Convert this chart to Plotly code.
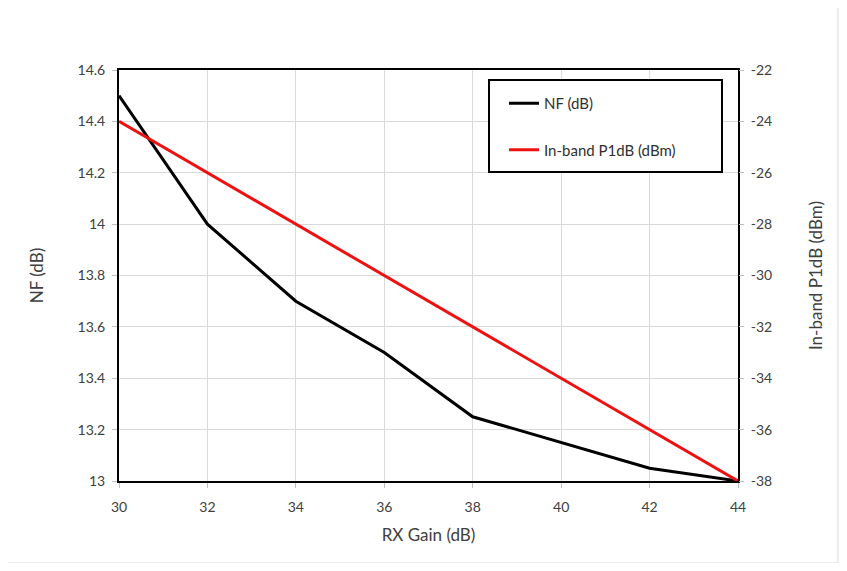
import plotly.graph_objects as go

rx_gain = [30, 32, 34, 36, 38, 40, 42, 44]
nf_db = [14.5, 14.0, 13.7, 13.5, 13.25, 13.15, 13.05, 13.0]
p1db_dbm = [-24, -26, -28, -30, -32, -34, -36, -38]
nf_ticks = [13, 13.2, 13.4, 13.6, 13.8, 14, 14.2, 14.4, 14.6]
nf_ticktext = ["13", "13.2", "13.4", "13.6", "13.8", "14", "14.2", "14.4", "14.6"]
p1_ticks = [-38, -36, -34, -32, -30, -28, -26, -24, -22]
p1_ticktext = ["-38", "-36", "-34", "-32", "-30", "-28", "-26", "-24", "-22"]

FONT = "Lato"
fig = go.Figure()
fig.add_trace(go.Scatter(x=rx_gain, y=nf_db, mode="lines", name="NF (dB)",
                         line=dict(color="black", width=3), legendgroup="a"))
fig.add_trace(go.Scatter(x=rx_gain, y=p1db_dbm, mode="lines", name="In-band P1dB (dBm)",
                         line=dict(color="#ee1111", width=3), yaxis="y2", legendgroup="b"))

OFF = 8  # page offset of the figure
L, R, T, B = 119, 738, 70, 481  # plot area in page pixels
W, H = 831, 555
pw, ph = R - L, B - T

def px(x):
    return (x - L) / pw

def py(y):
    return (B - y) / ph

fig.update_layout(
    width=W, height=H,
    margin=dict(l=L - OFF, r=W - (R - OFF), t=T - OFF, b=H - (B - OFF)),
    paper_bgcolor="white", plot_bgcolor="white",
    font=dict(family=FONT, size=14, color="#404040"),
    showlegend=True,
    legend=dict(x=px(504), y=py(87), xanchor="left", yanchor="top",
                bgcolor="rgba(0,0,0,0)", borderwidth=0,
                font=dict(size=15, color="#303030"),
                traceorder="grouped", tracegroupgap=24, itemwidth=30),
    xaxis=dict(range=[30, 44], tickvals=rx_gain, showgrid=True, gridcolor="#d9d9d9",
               showline=True, linecolor="black", linewidth=2, mirror=True,
               ticks="outside", ticklen=5, tickcolor="#bfbfbf", zeroline=False,
               ticklabelstandoff=7,
               title=dict(text="RX Gain (dB)", standoff=15)),
    yaxis=dict(range=[13, 14.6], tickvals=nf_ticks, ticktext=nf_ticktext,
               showgrid=True, gridcolor="#d9d9d9",
               showline=True, linecolor="black", linewidth=2, mirror=True,
               ticks="outside", ticklen=5, tickcolor="#bfbfbf", zeroline=False,
               ticklabelstandoff=4,
               title=dict(text="NF (dB)", standoff=30)),
    yaxis2=dict(range=[-38, -22], tickvals=p1_ticks, ticktext=p1_ticktext,
                overlaying="y", side="right",
                showgrid=False, showline=False, ticks="outside", ticklen=5, tickcolor="#bfbfbf",
                zeroline=False, ticklabelstandoff=4,
                title=dict(text="In-band P1dB (dBm)", standoff=38)),
    shapes=[
        dict(type="rect", xref="paper", yref="paper",
             x0=px(7), x1=px(838), y0=py(563), y1=py(7),
             line=dict(color="#d9d9d9", width=1), layer="below"),
        dict(type="rect", xref="paper", yref="paper",
             x0=px(489), x1=px(722), y0=py(172), y1=py(80),
             line=dict(color="black", width=2), fillcolor="white", layer="above"),
    ],
)
fig.write_html("out.html")
